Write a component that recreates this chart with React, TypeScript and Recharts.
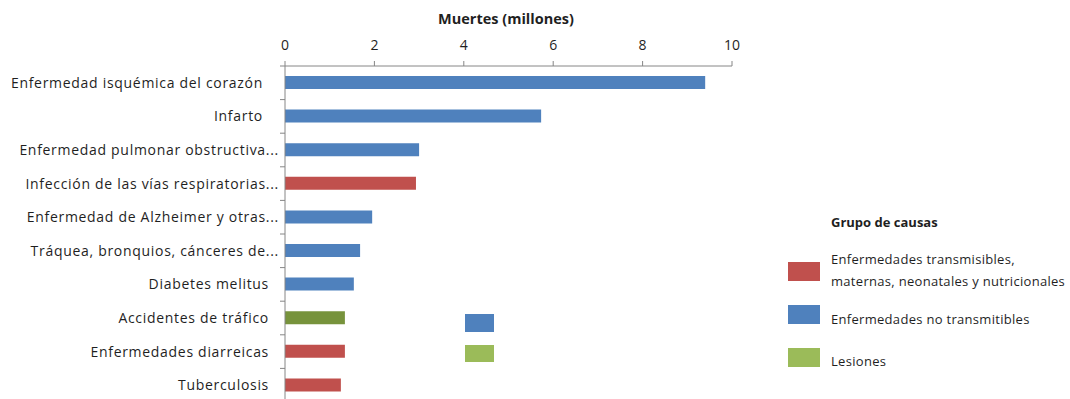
import React from "react";
import { BarChart, Bar, XAxis, YAxis, Cell } from "recharts";

const causes = [
  "Enfermedad isquémica del corazón ",
  "Infarto ",
  "Enfermedad pulmonar obstructiva...",
  "Infección de las vías respiratorias...",
  "Enfermedad de Alzheimer y otras...",
  "Tráquea, bronquios, cánceres de...",
  "Diabetes melitus",
  "Accidentes de tráfico",
  "Enfermedades diarreicas",
  "Tuberculosis",
];
const deaths = [9.4, 5.73, 3.0, 2.93, 1.95, 1.68, 1.54, 1.34, 1.34, 1.25];
const groups = ["nt", "nt", "nt", "t", "nt", "nt", "nt", "l", "t", "t"];
const xTicks = [0, 2, 4, 6, 8, 10];

const groupColors: Record<string, string> = {
  t: "#C0504D",
  nt: "#4F81BD",
  l: "#77933C",
};

const legendItems = [
  { label: ["Enfermedades transmisibles,", "maternas, neonatales y nutricionales"], color: "#C0504D" },
  { label: ["Enfermedades no transmitibles"], color: "#4F81BD" },
  { label: ["Lesiones"], color: "#9BBB59" },
];

const data = causes.map((c, i) => ({ cause: c, deaths: deaths[i], group: groups[i] }));

const FONT = "'Open Sans', 'Noto Sans', sans-serif";
const AXIS = "#868686";
const TEXT = "#1f1f1f";
const BAND = 33.6;

const YTick = (props: any) => {
  const { x, y, payload, index } = props;
  const raw: string = payload.value;
  const trunc = raw.endsWith("...");
  const spaced = raw.endsWith(" ");
  const label = raw.trim();
  const dx = trunc ? -6 : spaced ? -22 : -16;
  return (
    <g>
      <line x1={x - 5} x2={x} y1={y - BAND / 2} y2={y - BAND / 2} stroke={AXIS} />
      {index === causes.length - 1 && (
        <line x1={x - 5} x2={x} y1={y + BAND / 2} y2={y + BAND / 2} stroke={AXIS} />
      )}
      <text
        x={x + dx}
        y={y}
        dy={5}
        textAnchor="end"
        fill={TEXT}
        fontSize={14}
        fontFamily={FONT}
        style={{ letterSpacing: "0.7px" }}
      >
        {label}
      </text>
    </g>
  );
};

export default function App() {
  return (
    <div style={{ position: "absolute", left: 0, top: 0, width: 1070, height: 399, overflow: "hidden", background: "#fff", fontFamily: FONT }}>
      <BarChart
        width={1070}
        height={402}
        data={data}
        layout="vertical"
        margin={{ top: 36, right: 338, bottom: 0, left: 0 }}
        barCategoryGap={0}
      >
        <XAxis
          type="number"
          orientation="top"
          domain={[0, 10]}
          ticks={xTicks}
          height={30}
          axisLine={{ stroke: AXIS }}
          tickLine={{ stroke: AXIS }}
          tickSize={5}
          tickMargin={11}
          tick={{ fill: TEXT, fontSize: 14, fontFamily: FONT }}
        />
        <YAxis
          type="category"
          dataKey="cause"
          width={285}
          axisLine={{ stroke: AXIS }}
          tickLine={false}
          tickSize={0}
          tickMargin={0}
          interval={0}
          tick={<YTick />}
        />
        <Bar dataKey="deaths" barSize={13} isAnimationActive={false}>
          {data.map((d, i) => (
            <Cell key={i} fill={groupColors[d.group]} />
          ))}
        </Bar>
      </BarChart>

      <div style={{ position: "absolute", left: 406, top: 9, width: 200, textAlign: "center", fontWeight: 700, fontSize: 14.5, color: TEXT }}>
        Muertes (millones)
      </div>

      <div style={{ position: "absolute", left: 465, top: 314, width: 29, height: 18, background: "#4F81BD" }} />
      <div style={{ position: "absolute", left: 465, top: 345, width: 29, height: 17, background: "#9BBB59" }} />

      <div style={{ position: "absolute", left: 831, top: 213, fontWeight: 700, fontSize: 13, color: TEXT }}>
        Grupo de causas
      </div>
      {legendItems.map((it, i) => (
        <div key={i}>
          <div style={{ position: "absolute", left: 788, top: 262 + i * 43, width: 32, height: 19, background: it.color }} />
          <div style={{ position: "absolute", left: 831, top: i === 0 ? 248 : 308 + (i - 1) * 42, fontSize: 13, letterSpacing: "0.3px", lineHeight: "22px", color: TEXT, whiteSpace: "nowrap" }}>
            {it.label.map((l, j) => (
              <div key={j}>{l}</div>
            ))}
          </div>
        </div>
      ))}
    </div>
  );
}
